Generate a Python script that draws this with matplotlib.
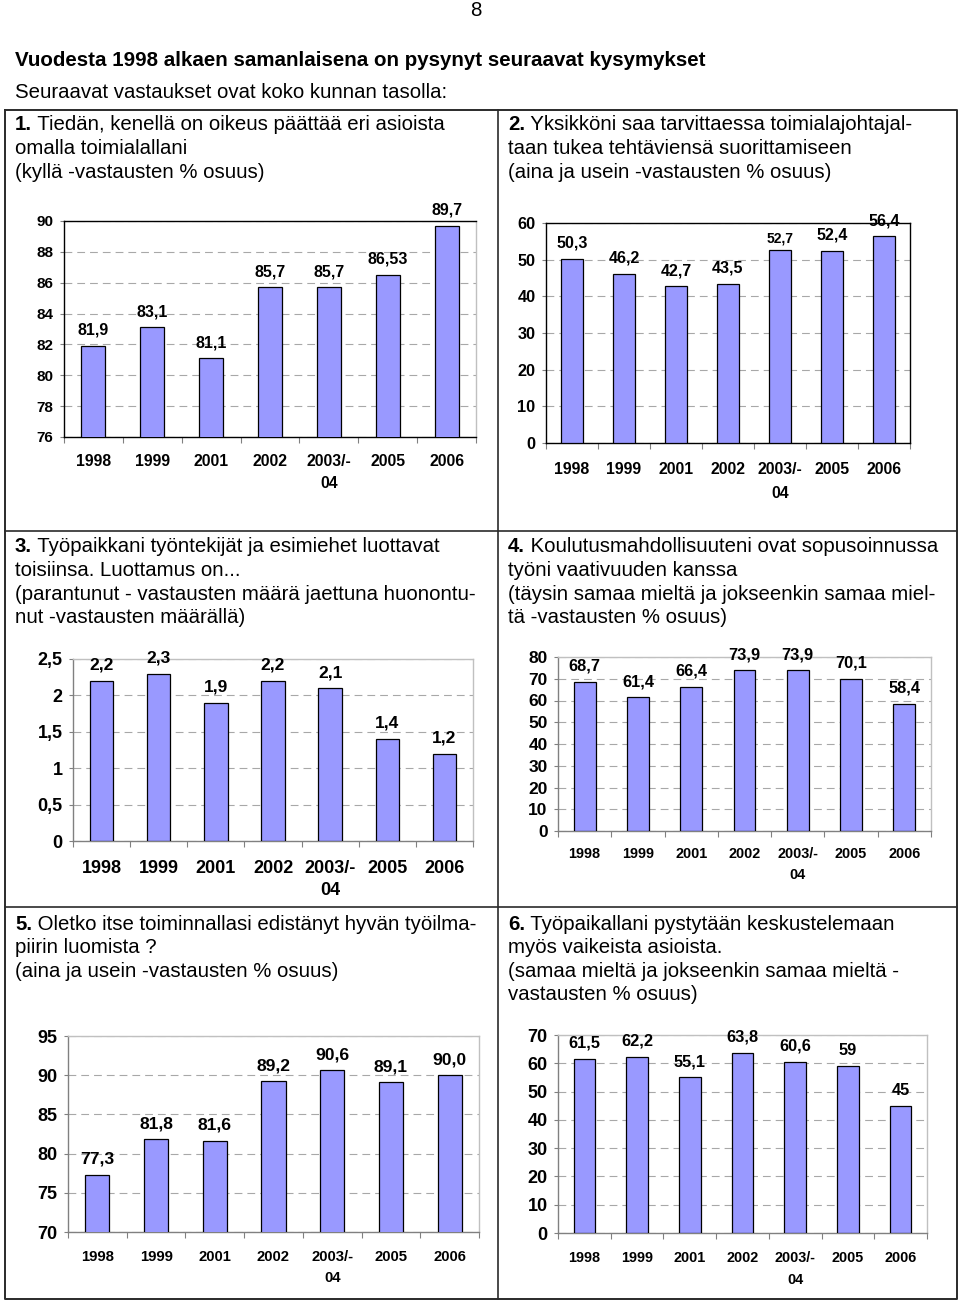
import matplotlib
matplotlib.use('Agg')
import matplotlib.pyplot as plt
import numpy as np

plt.rcParams['font.family'] = ['Liberation Sans', 'DejaVu Sans']

# ---------------- data ----------------
categories = ['1998', '1999', '2001', '2002', '2003/-\n04', '2005', '2006']
q1_values = [81.9, 83.1, 81.1, 85.7, 85.7, 86.53, 89.7]
q2_values = [50.3, 46.2, 42.7, 43.5, 52.7, 52.4, 56.4]
q3_values = [2.2, 2.3, 1.9, 2.2, 2.1, 1.4, 1.2]
q4_values = [68.7, 61.4, 66.4, 73.9, 73.9, 70.1, 58.4]
q5_values = [77.3, 81.8, 81.6, 89.2, 90.6, 89.1, 90.0]
q6_values = [61.5, 62.2, 55.1, 63.8, 60.6, 59, 45]

q1_yticks = [76, 78, 80, 82, 84, 86, 88, 90]
q2_yticks = [0, 10, 20, 30, 40, 50, 60]
q3_yticks = [0, 0.5, 1, 1.5, 2, 2.5]
q4_yticks = [0, 10, 20, 30, 40, 50, 60, 70, 80]
q5_yticks = [70, 75, 80, 85, 90, 95]
q6_yticks = [0, 10, 20, 30, 40, 50, 60, 70]

page_number = '8'
title = 'Vuodesta 1998 alkaen samanlaisena on pysynyt seuraavat kysymykset'
subtitle = 'Seuraavat vastaukset ovat koko kunnan tasolla:'
q1_text = [('1.', ' Tiedän, kenellä on oikeus päättää eri asioista'),
           ('', 'omalla toimialallani'),
           ('', '(kyllä -vastausten % osuus)')]
q2_text = [('2.', ' Yksikköni saa tarvittaessa toimialajohtajal-'),
           ('', 'taan tukea tehtäviensä suorittamiseen'),
           ('', '(aina ja usein -vastausten % osuus)')]
q3_text = [('3.', ' Työpaikkani työntekijät ja esimiehet luottavat'),
           ('', 'toisiinsa. Luottamus on...'),
           ('', '(parantunut - vastausten määrä jaettuna huonontu-'),
           ('', 'nut -vastausten määrällä)')]
q4_text = [('4.', ' Koulutusmahdollisuuteni ovat sopusoinnussa'),
           ('', 'työni vaativuuden kanssa'),
           ('', '(täysin samaa mieltä ja jokseenkin samaa miel-'),
           ('', 'tä -vastausten % osuus)')]
q5_text = [('5.', ' Oletko itse toiminnallasi edistänyt hyvän työilma-'),
           ('', 'piirin luomista ?'),
           ('', '(aina ja usein -vastausten % osuus)')]
q6_text = [('6.', ' Työpaikallani pystytään keskustelemaan'),
           ('', 'myös vaikeista asioista.'),
           ('', '(samaa mieltä ja jokseenkin samaa mieltä -'),
           ('', 'vastausten % osuus)')]

# ---------------- figure ----------------
W, H = 960, 1302
fig = plt.figure(figsize=(W / 100, H / 100), dpi=100)
overlay = fig.add_axes([0, 0, 1, 1], zorder=0)
overlay.set_xlim(0, W)
overlay.set_ylim(H, 0)
overlay.set_axis_off()
renderer = fig.canvas.get_renderer()


def measure(parts, size):
    total = 0
    for s, w in parts:
        if not s:
            continue
        t = overlay.text(0, 0, s, fontsize=size, fontweight=w)
        total += t.get_window_extent(renderer).width
        t.remove()
    return total


def fit(parts, target, base=14.0):
    return base * target / measure(parts, base)


title_size = fit([(title, 'bold')], 693)
body_size = fit([('1.', 'bold'), (q1_text[0][1], 'normal')], 434)

line_color = '#2a2a2a'
# table frame
overlay.plot([5, 957, 957, 5, 5], [110, 110, 1299, 1299, 110], color=line_color, lw=1.4)
overlay.plot([498, 498], [110, 1299], color=line_color, lw=1.2)
overlay.plot([5, 957], [531, 531], color=line_color, lw=1.2)
overlay.plot([5, 957], [907, 907], color=line_color, lw=1.2)

overlay.text(476, 11, page_number, fontsize=body_size, ha='center', va='center')
overlay.text(15, 61, title, fontsize=title_size, fontweight='bold', ha='left', va='center')
overlay.text(15, 92, subtitle, fontsize=body_size, ha='left', va='center')


def cell_text(lines, x, y0, step=23.6):
    for i, (bold, rest) in enumerate(lines):
        y = y0 + i * step
        if bold:
            b = overlay.text(x, y, bold, fontsize=body_size, fontweight='bold',
                             ha='left', va='center')
            overlay.annotate(rest, xy=(1, 0), xycoords=b, fontsize=body_size,
                             ha='left', va='bottom')
        else:
            overlay.text(x, y, rest, fontsize=body_size, ha='left', va='center')


cell_text(q1_text, 15, 125)
cell_text(q2_text, 508, 125)
cell_text(q3_text, 15, 547)
cell_text(q4_text, 508, 547)
cell_text(q5_text, 15, 924)
cell_text(q6_text, 508, 924)

DARK = '#000000'
GRAY = '#808080'
LIGHT = '#C0C0C0'


def chart(rect, values, yticks, fmt, ys, xs, ls, frame, xpad, lsize, small=None):
    l, t, r, b = rect
    ax = fig.add_axes([l / W, 1 - b / H, (r - l) / W, (b - t) / H], zorder=2)
    x = np.arange(len(categories))
    ax.bar(x, values, width=0.41, color='#9999FF', edgecolor='black',
           linewidth=0.9, zorder=3)
    ax.set_xlim(-0.5, len(categories) - 0.5)
    ax.set_ylim(yticks[0], yticks[-1])
    ax.set_yticks(yticks)
    ax.set_yticklabels([('%g' % v).replace('.', ',') for v in yticks],
                       fontsize=ys, fontweight='bold')
    ax.set_xticks(x)
    ax.set_xticklabels(categories, fontsize=xs, fontweight='bold')
    for lab in ax.get_xticklabels():
        lab.set_linespacing(ls)
    ax.set_xticks(np.arange(-0.5, len(categories)), minor=True)
    ax.tick_params(axis='x', which='major', length=0, pad=xpad)
    ax.tick_params(axis='x', which='minor', length=4, color=GRAY, width=0.8)
    ax.tick_params(axis='y', which='major', length=3, color=GRAY, width=0.8, pad=4.5)
    ax.yaxis.grid(True, color='#A8A8A8', lw=0.8, ls=(0, (7, 4.5)))
    ax.set_axisbelow(True)
    top_c, right_c, lb_c = frame
    ax.spines['top'].set_color(top_c)
    ax.spines['right'].set_color(right_c)
    ax.spines['left'].set_color(lb_c)
    ax.spines['bottom'].set_color(lb_c)
    for sp in ax.spines.values():
        sp.set_linewidth(1.0)
    for i, v in enumerate(values):
        txt = fmt.format(v).replace('.', ',')
        size, off = lsize, 8.0
        if small is not None and i == small:
            size, off = 10.0, 5.0
        ax.annotate(txt, xy=(i, v), xytext=(0, off), textcoords='offset points',
                    ha='center', va='baseline', fontsize=size, fontweight='bold',
                    annotation_clip=False, zorder=5)
    return ax


chart((64, 221, 476, 437), q1_values, q1_yticks, '{:g}', 11, 11.3, 1.55,
      (DARK, LIGHT, DARK), 12.5, 11.5)
chart((546, 223, 910, 443), q2_values, q2_yticks, '{:g}', 11.7, 11.4, 1.75,
      (DARK, DARK, DARK), 13.9, 11.5, small=4)
chart((73, 659, 473, 841), q3_values, q3_yticks, '{:g}', 13, 13, 1.36,
      (LIGHT, LIGHT, GRAY), 14.0, 12.5)
chart((558, 657, 931, 831), q4_values, q4_yticks, '{:g}', 12.5, 10.4, 1.62,
      (LIGHT, LIGHT, GRAY), 11.8, 11.8)
chart((68, 1036, 479, 1232), q5_values, q5_yticks, '{:.1f}', 13, 10.7, 1.63,
      (LIGHT, LIGHT, GRAY), 12.7, 12.6)
chart((558, 1035, 927, 1233), q6_values, q6_yticks, '{:g}', 13, 10.4, 1.7,
      (LIGHT, LIGHT, GRAY), 13.1, 11.8)

fig.savefig('out.png', dpi=100)
